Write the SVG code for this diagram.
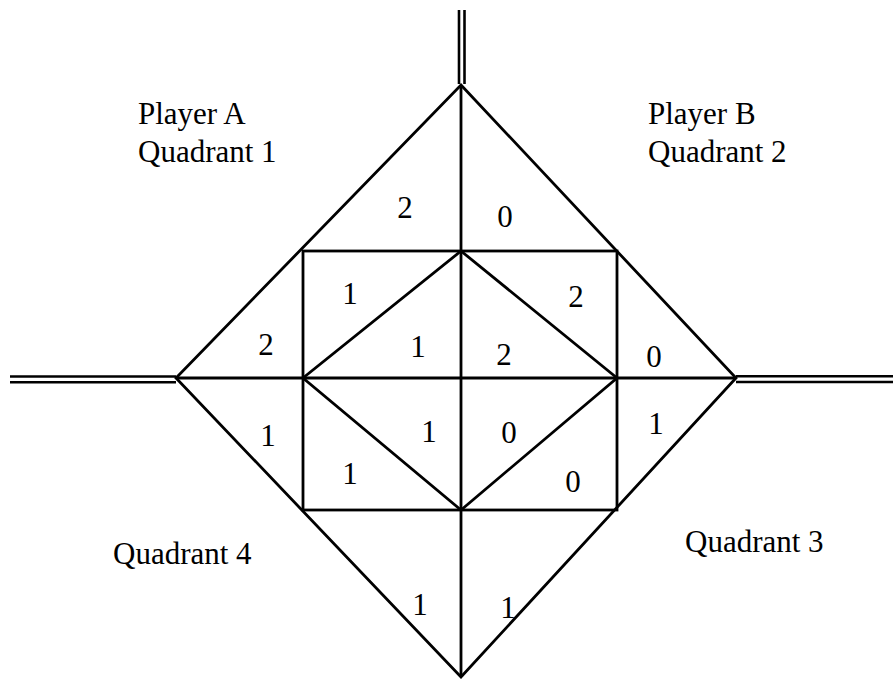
<svg xmlns="http://www.w3.org/2000/svg" width="893" height="679" viewBox="0 0 893 679">
<style>
.ln{stroke:#000;stroke-width:2.8;fill:none;stroke-linejoin:miter}
.dl{stroke:#000;stroke-width:2.6;fill:none}
text{font-family:"Liberation Serif","Times New Roman",serif;font-size:31px;fill:#000}
</style>
<rect width="893" height="679" fill="#fff"/>
<g id="connectors">
<line class="dl" x1="459" y1="10" x2="459" y2="84"/>
<line class="dl" x1="464.5" y1="10" x2="464.5" y2="84"/>
<line class="dl" x1="10" y1="376.5" x2="176" y2="376.5"/>
<line class="dl" x1="10" y1="382.3" x2="176" y2="382.3"/>
<line class="dl" x1="736" y1="376.2" x2="893" y2="376.2"/>
<line class="dl" x1="736" y1="382" x2="893" y2="382"/>
</g>
<g id="outer-diamond"><polygon class="ln" points="461,85 736,378 461,677 176,378"/></g>
<g id="square"><rect class="ln" x="303" y="251" width="314" height="259"/></g>
<g id="inner-diamond"><polygon class="ln" points="461,251 617,378 461,510 303,378"/></g>
<g id="axes">
<line class="ln" x1="176" y1="378" x2="736" y2="378"/>
<line class="ln" x1="461" y1="85" x2="461" y2="677"/>
</g>
<g id="labels">
<text x="138" y="124">Player A</text>
<text x="138" y="162">Quadrant 1</text>
<text x="648" y="124">Player B</text>
<text x="648" y="162">Quadrant 2</text>
<text x="685" y="552">Quadrant 3</text>
<text x="113" y="564">Quadrant 4</text>
</g>
<g id="values" text-anchor="middle">
<text x="405" y="218">2</text>
<text x="505" y="227">0</text>
<text x="350" y="304">1</text>
<text x="576" y="307">2</text>
<text x="266" y="355">2</text>
<text x="418" y="357">1</text>
<text x="504" y="365">2</text>
<text x="654" y="367">0</text>
<text x="268" y="446">1</text>
<text x="429" y="442">1</text>
<text x="509" y="443">0</text>
<text x="656" y="434">1</text>
<text x="350" y="484">1</text>
<text x="573" y="492">0</text>
<text x="420" y="615">1</text>
<text x="508" y="618">1</text>
</g>
</svg>
